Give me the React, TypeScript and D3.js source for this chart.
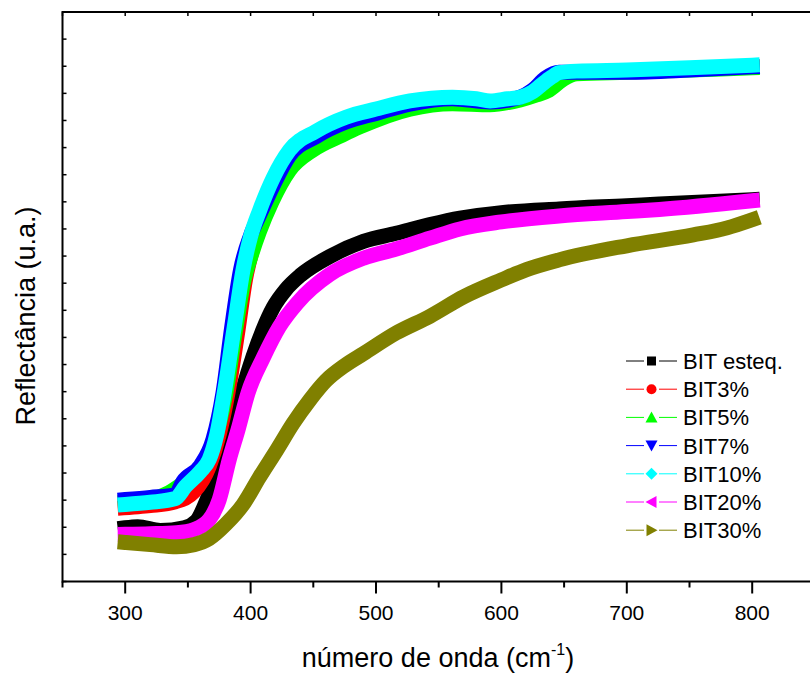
import React from "react";
import * as d3 from "d3";

// ---- data (wavenumber, reflectance in arbitrary units) ----
const xEsteq = [300, 310, 328, 347, 357, 366, 377, 387, 394, 402, 410, 418, 428, 440, 463, 490, 516, 543, 567, 600, 646, 700, 726, 800];
const yEsteq = [9.9, 10.1, 9.4, 9.9, 11.2, 15.5, 22.5, 29.0, 35.5, 41.5, 46.5, 50.5, 53.8, 56.5, 59.9, 62.7, 64.2, 65.8, 67.0, 68.0, 68.7, 69.3, 69.6, 70.4];

const x3 = [300, 320, 340, 355, 367, 375, 382, 390, 396, 401, 408, 418, 431, 451, 475, 527, 561, 591, 615, 630, 645, 660, 700, 750, 800];
const y3 = [13.6, 14.0, 14.7, 16.6, 21.2, 27.1, 34.8, 46.4, 55.8, 60.8, 65.8, 71.6, 77.5, 81.3, 83.8, 87.7, 88.6, 88.2, 89.0, 90.6, 92.8, 93.8, 94.1, 94.5, 94.9];

const x5 = [300, 320, 335, 345, 360, 370, 380, 388, 395, 401, 407, 417, 431, 450, 473, 487, 527, 561, 591, 615, 628, 638, 650, 660, 700, 750, 800];
const y5 = [14.6, 15.1, 16.4, 17.9, 20.6, 25.2, 34.4, 46.4, 55.8, 60.5, 64.5, 70.0, 75.8, 79.6, 82.3, 83.8, 87.1, 88.1, 87.9, 88.8, 89.7, 90.6, 92.7, 93.6, 93.9, 94.3, 94.7];

const x7 = [300, 320, 340, 346, 360, 370, 378, 385, 392, 400, 407, 418, 431, 452, 476, 500, 527, 561, 591, 615, 625, 635, 646, 660, 700, 750, 800];
const y7 = [15.1, 15.5, 16.0, 18.4, 21.4, 26.2, 34.8, 47.0, 57.5, 63.8, 67.5, 73.0, 78.5, 82.0, 84.7, 86.3, 88.0, 89.0, 88.4, 89.3, 90.6, 92.8, 93.9, 93.9, 93.9, 94.3, 94.9];

const x10 = [300, 320, 340, 348, 360, 367, 373, 379, 387, 394, 400, 407, 418, 431, 452, 476, 500, 527, 561, 580, 591, 605, 615, 625, 631, 640, 646, 660, 700, 750, 800];
const y10 = [14.2, 14.6, 15.3, 17.5, 20.3, 22.5, 27.1, 34.8, 47.0, 57.5, 63.6, 68.3, 74.4, 79.5, 83.0, 85.6, 87.1, 88.6, 89.3, 89.0, 88.6, 89.0, 89.3, 90.3, 91.4, 93.0, 93.8, 94.1, 94.3, 94.7, 95.2];

const x20 = [300, 320, 341, 355, 367, 375, 383, 390, 398, 410, 423, 437, 463, 490, 516, 543, 567, 600, 646, 700, 726, 800];
const y20 = [8.7, 8.8, 9.0, 9.6, 11.4, 15.1, 22.5, 28.0, 34.8, 41.2, 47.0, 51.3, 56.6, 59.6, 61.3, 63.3, 65.0, 66.3, 67.4, 68.2, 68.6, 70.2];

const x30 = [300, 320, 341, 355, 367, 380, 394, 407, 421, 434, 447, 460, 475, 490, 516, 543, 570, 600, 620, 646, 700, 753, 780, 800];
const y30 = [7.2, 6.8, 6.4, 6.8, 7.9, 10.5, 14.2, 19.2, 24.3, 29.2, 33.4, 37.0, 39.8, 42.0, 45.8, 48.9, 52.5, 55.6, 57.5, 59.3, 61.9, 63.9, 65.2, 66.7];

const seriesNames = ["BIT esteq.", "BIT3%", "BIT5%", "BIT7%", "BIT10%", "BIT20%", "BIT30%"];
const seriesColors = ["#000000", "#FF0000", "#00FF00", "#0000FF", "#00FFFF", "#FF00FF", "#808000"];
const seriesMarkers = ["square", "circle", "triangleUp", "triangleDown", "diamond", "triangleLeft", "triangleRight"];
const seriesX = [xEsteq, x3, x5, x7, x10, x20, x30];
const seriesY = [yEsteq, y3, y5, y7, y10, y20, y30];

const xMajorTicks = [300, 400, 500, 600, 700, 800];
const xMinorTicks = [250, 350, 450, 550, 650, 750, 850];
const xTitle = "número de onda (cm";
const yTitle = "Reflectância (u.a.)";

const W = 810;
const H = 675;
const left = 62.5;
const top = 12;
const bottom = 581.5;

function Marker({ type, cx, cy, color }: { type: string; cx: number; cy: number; color: string }) {
  const s = 5;
  switch (type) {
    case "square":
      return <rect x={cx - 4.5} y={cy - 4.5} width={9} height={9} fill={color} />;
    case "circle":
      return <circle cx={cx} cy={cy} r={5} fill={color} />;
    case "triangleUp":
      return <path d={`M${cx},${cy - s - 1}L${cx + s + 1},${cy + s}L${cx - s - 1},${cy + s}Z`} fill={color} />;
    case "triangleDown":
      return <path d={`M${cx},${cy + s + 1}L${cx + s + 1},${cy - s}L${cx - s - 1},${cy - s}Z`} fill={color} />;
    case "diamond":
      return <path d={`M${cx},${cy - 6}L${cx + 6},${cy}L${cx},${cy + 6}L${cx - 6},${cy}Z`} fill={color} />;
    case "triangleLeft":
      return <path d={`M${cx - s - 1},${cy}L${cx + s},${cy - s - 1}L${cx + s},${cy + s + 1}Z`} fill={color} />;
    default:
      return <path d={`M${cx + s + 1},${cy}L${cx - s},${cy - s - 1}L${cx - s},${cy + s + 1}Z`} fill={color} />;
  }
}

export default function App() {
  const x = d3.scaleLinear().domain([250, 850]).range([left, left + 600 * 1.254]);
  const y = d3.scaleLinear().domain([0, 105]).range([bottom, top]);
  const yTicks = d3.range(0, 106, 5);
  const line = d3
    .line<[number, number]>()
    .x((d) => x(d[0]))
    .y((d) => y(d[1]))
    .curve(d3.curveMonotoneX);

  const font = "Liberation Sans, Arial, Helvetica, sans-serif";

  return (
    <svg
      width={W}
      height={H}
      style={{ position: "absolute", left: 0, top: 0, background: "#fff" }}
      fontFamily={font}
    >
      <rect x={0} y={0} width={W} height={H} fill="#fff" />
      <g>
        {seriesX.map((xs, i) => {
          const pts = xs.map((v, j) => [v, seriesY[i][j]] as [number, number]);
          return (
            <path
              key={i}
              d={line(pts) || ""}
              fill="none"
              stroke={seriesColors[i]}
              strokeWidth={15}
              strokeLinejoin="round"
              strokeLinecap="square"
            />
          );
        })}
      </g>
      {/* axes frame */}
      <line x1={left} x2={W + 10} y1={top} y2={top} stroke="#000" strokeWidth={2} />
      <line x1={left} x2={W + 10} y1={bottom} y2={bottom} stroke="#000" strokeWidth={2} />
      <line x1={left} x2={left} y1={top - 1} y2={bottom + 1} stroke="#000" strokeWidth={2} />
      {/* y ticks (inward) */}
      {yTicks.map((t) => (
        <line key={"y" + t} x1={left} x2={left + 4} y1={y(t)} y2={y(t)} stroke="#000" strokeWidth={1.5} />
      ))}
      {/* top ticks (inward) */}
      {[...xMajorTicks, ...xMinorTicks].map((t) => (
        <line key={"t" + t} x1={x(t)} x2={x(t)} y1={top} y2={top + 4} stroke="#000" strokeWidth={1.5} />
      ))}
      {/* bottom ticks (outward) */}
      {xMajorTicks.map((t) => (
        <line key={"b" + t} x1={x(t)} x2={x(t)} y1={bottom} y2={bottom + 12} stroke="#000" strokeWidth={2} />
      ))}
      {xMinorTicks.map((t) => (
        <line key={"m" + t} x1={x(t)} x2={x(t)} y1={bottom} y2={bottom + 6} stroke="#000" strokeWidth={2} />
      ))}
      {xMajorTicks.map((t) => (
        <text key={"l" + t} x={x(t)} y={620} textAnchor="middle" fontSize={21} fill="#000">
          {t}
        </text>
      ))}
      {/* axis titles */}
      <text x={438} y={667} textAnchor="middle" fontSize={27} fill="#000">
        {xTitle}
        <tspan fontSize={16} dy={-12}>-1</tspan>
        <tspan dy={12}>)</tspan>
      </text>
      <text
        transform={`translate(35,${316}) rotate(-90)`}
        textAnchor="middle"
        fontSize={27}
        fill="#000"
      >
        {yTitle}
      </text>
      {/* legend */}
      {seriesNames.map((name, i) => {
        const cy = 361 + i * 28.2;
        return (
          <g key={name}>
            <line x1={626} x2={644} y1={cy} y2={cy} stroke={seriesColors[i]} strokeWidth={1} />
            <line x1={659} x2={677} y1={cy} y2={cy} stroke={seriesColors[i]} strokeWidth={1} />
            <Marker type={seriesMarkers[i]} cx={651.5} cy={cy} color={seriesColors[i]} />
            <text x={683} y={cy + 8} fontSize={22} fill="#000">
              {name}
            </text>
          </g>
        );
      })}
    </svg>
  );
}
